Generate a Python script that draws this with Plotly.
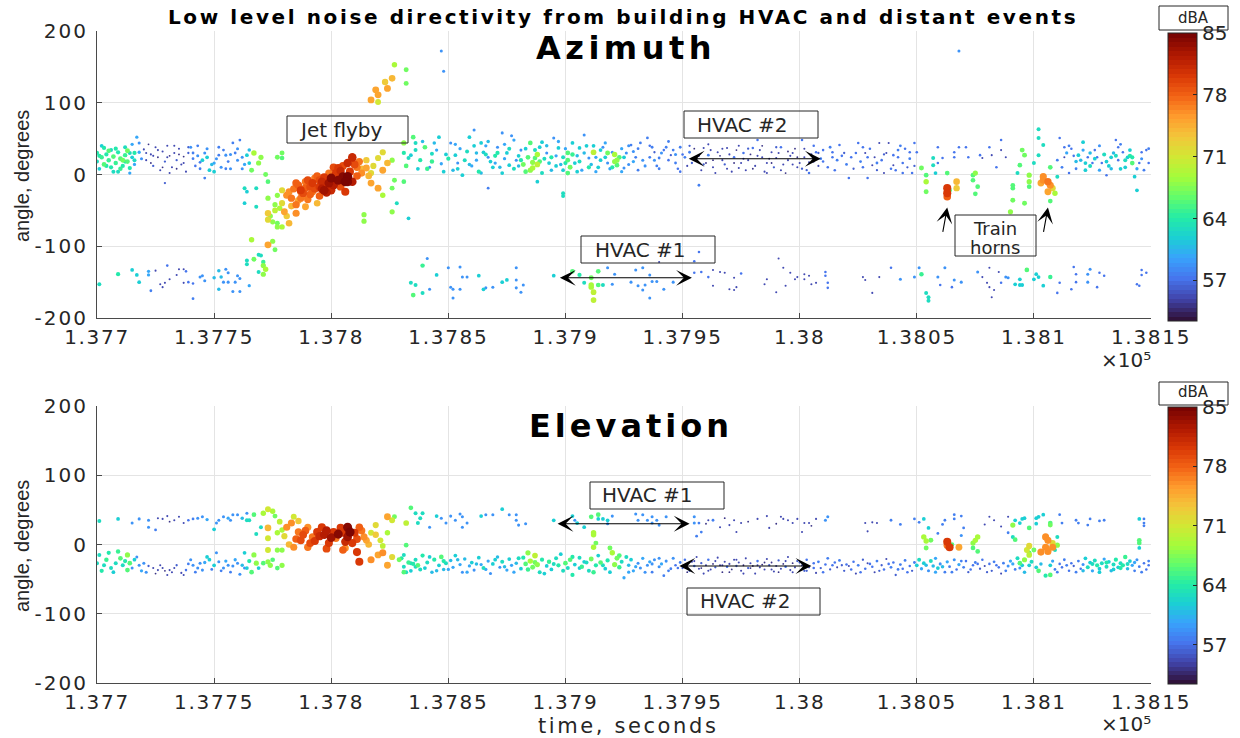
import plotly.graph_objects as go
from plotly.colors import sample_colorscale

# ---------------------------------------------------------------------------
# Axis ticks
# ---------------------------------------------------------------------------
time_ticks = [137700, 137750, 137800, 137850, 137900, 137950, 138000, 138050, 138100, 138150]
time_tick_labels = ["1.377", "1.3775", "1.378", "1.3785", "1.379", "1.3795",
                    "1.38", "1.3805", "1.381", "1.3815"]
angle_ticks = [-200, -100, 0, 100, 200]
angle_tick_labels = ["-200", "-100", "0", "100", "200"]
level_ticks = [57, 64, 71, 78, 85]
level_min, level_max = 52.4, 85.0

# ---------------------------------------------------------------------------
# Detections: (time s, angle deg, level dBA)
# ---------------------------------------------------------------------------
# Azimuth - HVAC band near +20 deg
az_band_upper = [
    (137700, 30, 64), (137700, 18, 63), (137701, 8, 62), (137702, 24, 65), (137703, 37, 64),
    (137703, 14, 66), (137704, 28, 64), (137705, 20, 65), (137706, 34, 63), (137706, 10, 64),
    (137707, 25, 66), (137708, 16, 65), (137709, 31, 64), (137709, 4, 63), (137710, 22, 66),
    (137711, 12, 64), (137712, 27, 65), (137712, 38, 63), (137713, 18, 66), (137714, 9, 64),
    (137715, 24, 62), (137715, 42, 60), (137716, 30, 64), (137713, 33, 67), (137711, 20, 67),
    (137717, 52, 60), (137718, 31, 60), (137716, 14, 60), (137719, 22, 59), (137714, 2, 60),
    (137701, 26, 64), (137702, 40, 62), (137704, 12, 64), (137705, 33, 66), (137707, 4, 63),
    (137708, 36, 64), (137710, 8, 65), (137712, 18, 64), (137714, 30, 63), (137716, 20, 63),
    (137718, 44, 59), (137721, 30, 55), (137723, 16, 54), (137726, 34, 55), (137728, 10, 54),
    (137730, 24, 55), (137733, 40, 55), (137734, 8, 54), (137737, 16, 55), (137739, 38, 56),
    (137741, 30, 58), (137744, 8, 58), (137747, 36, 59), (137750, 16, 60), (137752, 38, 58),
    (137755, 8, 58), (137757, 28, 59), (137760, 36, 59), (137762, 8, 59), (137765, 34, 61),
    (137720, 35, 55), (137721, 20, 55), (137722, 42, 54), (137723, 28, 55), (137724, 12, 56),
    (137725, 38, 55), (137726, 24, 54), (137727, 6, 55), (137728, 32, 55), (137729, 18, 56),
    (137730, 40, 55), (137731, 26, 54), (137732, 10, 55), (137733, 30, 55), (137734, 20, 56),
    (137735, 36, 55), (137736, 14, 55), (137737, 25, 54), (137738, 4, 55), (137729, -12, 56),
    (137739, 30, 56), (137731, 2, 55), (137724, 26, 55), (137735, 28, 54),
    (137740, 38, 59), (137741, 22, 58), (137742, 12, 57), (137743, 26, 59), (137743, 40, 58),
    (137744, 17, 58), (137745, 20, 62), (137746, -5, 58), (137746, 30, 59), (137747, 24, 62),
    (137748, 6, 62), (137749, 14, 61), (137750, 4, 62), (137751, 22, 59), (137752, 27, 58),
    (137753, 10, 59), (137754, 34, 58), (137755, 27, 59), (137756, 18, 58), (137757, 8, 59),
    (137758, 44, 58), (137759, 30, 58), (137760, 20, 59), (137761, 48, 58), (137762, 24, 59),
    (137763, 14, 60), (137764, 27, 62), (137765, 16, 62), (137766, 6, 67), (137767, 30, 69),
    (137769, 16, 68), (137770, 24, 68), (137772, 0, 67), (137773, -10, 66), (137777, 24, 67),
    (137779, 23, 66), (137779, 30, 67),
    (137835, 52, 66), (137840, 38, 66), (137843, 29, 63), (137846, 52, 62), (137842, 10, 59),
    (137851, 44, 59), (137853, 27, 62), (137854, 16, 59), (137856, -1, 62), (137859, 52, 62),
    (137861, 62, 59), (137864, 44, 62), (137865, 31, 62), (137867, 24, 59), (137869, 10, 62),
    (137871, 38, 59), (137873, 58, 59), (137875, 30, 62), (137877, 54, 59), (137876, 13, 62),
    (137879, 20, 59), (137881, 34, 59), (137884, 24, 66), (137885, 44, 66), (137886, 17, 68),
    (137886, 9, 69), (137887, 23, 66), (137889, 38, 62), (137890, 45, 62), (137892, 30, 59),
    (137893, 16, 62), (137895, 51, 59), (137897, 37, 62), (137899, 24, 63), (137901, 30, 66),
    (137901, 20, 66), (137901, 2, 66), (137903, 44, 62), (137904, 16, 62), (137906, 37, 62),
    (137908, 55, 59), (137910, 23, 59), (137912, 31, 70), (137914, 10, 62), (137916, 38, 59),
    (137917, 24, 62), (137918, 16, 59), (137920, 31, 59), (137922, 20, 68), (137922, 13, 66),
    (137923, 24, 66), (137925, 9, 59), (137926, 30, 59), (137928, 41, 58), (137930, 24, 58),
    (137932, 44, 58), (137935, 51, 58), (137936, 24, 58), (137938, 31, 56), (137940, 23, 58),
    (137943, 38, 58), (137945, 27, 56), (137947, 16, 58), (137949, 38, 58), (137951, 24, 58),
    (137953, 31, 58), (137954, 16, 56), (137957, -15, 58), (137959, 37, 55), (137961, 27, 58),
    (137963, 10, 55), (137965, 31, 55), (137967, 20, 55), (137969, 37, 55), (137972, 24, 57),
    (137974, 9, 55), (137976, 30, 57), (137978, 20, 55), (137980, 37, 57), (137982, 48, 57),
    (137984, 24, 55), (137986, 16, 55), (137988, 31, 55), (137990, 23, 55), (137992, 38, 57),
    (137995, 20, 55), (137997, 30, 55), (137999, 10, 55), (138001, 48, 57), (138002, 24, 55),
    (138004, 17, 55), (138007, 31, 57),
    (137867, -19, 58), (137888, -10, 62), (137899, -26, 63), (137899, -30, 63),
    (137838, 20, 64), (137841, 8, 65), (137844, 44, 61), (137847, 15, 60), (137849, 28, 62),
    (137852, 6, 61), (137855, 36, 60), (137857, 20, 63), (137860, 12, 60), (137862, 30, 61),
    (137863, 4, 64), (137866, 40, 60), (137868, 18, 62), (137870, 26, 64), (137872, 10, 61),
    (137874, 42, 60), (137878, 8, 63), (137880, 26, 62), (137882, 14, 67), (137883, 4, 66),
    (137888, 28, 69), (137888, 14, 70), (137891, 22, 63), (137894, 6, 61), (137896, 26, 60),
    (137898, 14, 61), (137900, 36, 60), (137902, 10, 67), (137905, 26, 61), (137907, 6, 60),
    (137909, 40, 62), (137911, 14, 61), (137913, 24, 60), (137915, 34, 62), (137919, 8, 60),
    (137921, 28, 69), (137924, 36, 60), (137927, 14, 59), (137929, 32, 59), (137931, 6, 58),
    (137933, 20, 59), (137937, 38, 58), (137939, 12, 58), (137941, 30, 59), (137944, 20, 57),
    (137946, 34, 58), (137948, 8, 57), (137950, 28, 57),
    (137831, 30, 64), (137832, 12, 66), (137836, 34, 63), (137837, 8, 62), (137839, 46, 61),
    (137843, 18, 65), (137845, 34, 60), (137848, 4, 62), (137850, 22, 64), (137853, 42, 60),
    (137854, 8, 62), (137858, 32, 63), (137859, 14, 61), (137861, 40, 62), (137862, 20, 60),
    (137864, 2, 61), (137866, 28, 63), (137867, 46, 61), (137870, 16, 60), (137871, 30, 64),
    (137873, 2, 62), (137874, 22, 60), (137876, 36, 63), (137878, 48, 60), (137880, 12, 61),
    (137881, 20, 64), (137883, 36, 62), (137885, 6, 68), (137887, 34, 63), (137889, 18, 66),
    (137890, 2, 63), (137892, 40, 61), (137894, 24, 64), (137896, 12, 62), (137897, 46, 60),
    (137899, 6, 62), (137900, 16, 64), (137903, 28, 65), (137905, 4, 62), (137906, 18, 63),
    (137908, 30, 61), (137910, 10, 64), (137912, 40, 62), (137913, 4, 60), (137915, 20, 62),
    (137917, 44, 60), (137918, 30, 67), (137920, 10, 64), (137921, 18, 68), (137924, 4, 60),
    (137925, 24, 62), (137927, 40, 59), (137929, 18, 60), (137931, 36, 58), (137934, 12, 59),
    (137936, 40, 57), (137938, 20, 59), (137940, 8, 58), (137942, 34, 57), (137944, 46, 58),
    (137947, 28, 59), (137949, 4, 57),
    (137952, 12, 55), (137955, 36, 54), (137956, 22, 55), (137958, 6, 55), (137960, 16, 54),
    (137962, 34, 55), (137964, 2, 55), (137966, 26, 54), (137968, 14, 56), (137970, 28, 55),
    (137971, 4, 55), (137973, 34, 54), (137975, 16, 55), (137977, 6, 55), (137979, 28, 54),
    (137981, 12, 55), (137983, 34, 55), (137985, 4, 55), (137987, 22, 54), (137989, 10, 56),
    (137991, 30, 55), (137993, 14, 55), (137994, 2, 54), (137996, 26, 55), (137998, 36, 54),
    (138000, 16, 55), (138003, 6, 56), (138005, 28, 55), (138006, 40, 57), (138008, 12, 55),
    (138009, 22, 58),
    (137953, 40, 56), (137957, 26, 55), (137959, 14, 56), (137961, 42, 55), (137963, 20, 54),
    (137967, 36, 55), (137969, 8, 55), (137972, 16, 54), (137974, 40, 55), (137976, 22, 55),
    (137978, 36, 56), (137980, 8, 54), (137982, 26, 55), (137984, 40, 54), (137986, 2, 55),
    (137988, 16, 54), (137990, 38, 56), (137992, 6, 55), (137995, 32, 54), (137997, 14, 55),
    (137999, 24, 54), (138001, 8, 56), (138002, 36, 55), (138004, 2, 57), (138006, 18, 55),
    (138008, 30, 56),
    (138010, 34, 57), (138014, 31, 57), (138014, 24, 57), (138017, 41, 57), (138021, -5, 57),
    (138022, 24, 57), (138025, 44, 57), (138027, 38, 57), (138029, 24, 57), (138029, -5, 57),
    (138031, 13, 55), (138032, 24, 55), (138034, 44, 55), (138036, 2, 55), (138038, 44, 55),
    (138040, 13, 55), (138040, 27, 57), (138042, 24, 57), (138044, 16, 57), (138045, 36, 57),
    (138047, 31, 57), (138048, 2, 57), (138049, 44, 57), (138050, 31, 57),
    (138012, 10, 57), (138016, 20, 58), (138019, 30, 56), (138023, 8, 56), (138026, 18, 58),
    (138028, 30, 55), (138033, 6, 56), (138035, 20, 57), (138037, 30, 55), (138041, 6, 57),
    (138043, 40, 58), (138046, 10, 56),
    (138010, 18, 57), (138013, 38, 58), (138015, 6, 57), (138018, 26, 57), (138020, 14, 58),
    (138024, 30, 57), (138027, 10, 57), (138030, 36, 57), (138033, 16, 58), (138036, 28, 56),
    (138039, 8, 57), (138042, 34, 58), (138044, 2, 57), (138047, 22, 58), (138049, 12, 56),
    (138057, 23, 63), (138057, 13, 63), (138058, 2, 62), (138059, 38, 57), (138059, 16, 57),
    (138061, 23, 57), (138066, 31, 57), (138066, 24, 57), (138068, 38, 57), (138071, 38, 57),
    (138072, 24, 57), (138077, 27, 57), (138078, 23, 55), (138081, 38, 57), (138082, 27, 55),
    (138084, 10, 57), (138086, 48, 57), (138086, 34, 55), (138088, 24, 55), (138068, 172, 59),
    (138093, 2, 63), (138094, 13, 66), (138095, 34, 67), (138096, 27, 67), (138100, 16, 63),
    (138102, 27, 63), (138102, 63, 63), (138102, 51, 63), (138104, 41, 63),
    (138111, 51, 57), (138113, 38, 57), (138113, 24, 55), (138115, 2, 57), (138116, 36, 57),
    (138117, 26, 57), (138119, 27, 62), (138121, 45, 62), (138122, 16, 62), (138122, 6, 62),
    (138123, 24, 57), (138125, 16, 57), (138126, 34, 57), (138127, 24, 57), (138129, 16, 57),
    (138131, -1, 57), (138133, 24, 62), (138135, 48, 57), (138136, 38, 57), (138136, 20, 57),
    (138138, 31, 57), (138140, 24, 62), (138141, 34, 62), (138142, 24, 64), (138142, 16, 66),
    (138143, -3, 62), (138145, 16, 57), (138146, 31, 57), (138148, 34, 57), (138149, 16, 57),
    (138112, 10, 58), (138114, 30, 60), (138118, 8, 58), (138120, 20, 61), (138124, 30, 61),
    (138128, 6, 60), (138130, 28, 63), (138132, 12, 62), (138134, 30, 61), (138137, 8, 62),
    (138139, 20, 63), (138147, 6, 58),
    (138110, 20, 58), (138115, 40, 58), (138118, 18, 61), (138121, 34, 60), (138124, 12, 63),
    (138126, 22, 62), (138128, 40, 59), (138131, 18, 62), (138133, 8, 61), (138135, 26, 63),
    (138137, 42, 58), (138139, 10, 62), (138141, 26, 64), (138144, 8, 60), (138146, 22, 59),
    (138149, 36, 58),
]

# Azimuth - HVAC band near -145 deg
az_band_lower = [
    (137701, -153, 63), (137709, -139, 64), (137715, -133, 62), (137717, -140, 62), (137718, -150, 62),
    (137722, -135, 60), (137722, -140, 60), (137723, -162, 58), (137725, -134, 55), (137727, -153, 55),
    (137728, -157, 55), (137729, -151, 55), (137730, -127, 57), (137731, -146, 55), (137734, -140, 55),
    (137735, -132, 55), (137737, -132, 55), (137738, -135, 57), (137737, -151, 55), (137739, -150, 57),
    (137741, -152, 57), (137741, -173, 58), (137744, -143, 59), (137745, -141, 59), (137746, -148, 59),
    (137750, -144, 61), (137752, -134, 61), (137752, -160, 61), (137753, -143, 61), (137754, -150, 59),
    (137755, -132, 59), (137756, -137, 59), (137756, -150, 59), (137758, -163, 59), (137759, -150, 59),
    (137760, -141, 59), (137761, -163, 59), (137761, -145, 59), (137765, -155, 60), (137764, -120, 63),
    (137764, -125, 63),
    (137834, -151, 63), (137836, -154, 63), (137835, -168, 66), (137839, -127, 65), (137839, -165, 63),
    (137841, -117, 59), (137842, -160, 59), (137845, -140, 62), (137850, -130, 59), (137851, -157, 59),
    (137852, -172, 59), (137852, -160, 59), (137855, -160, 59), (137855, -129, 59), (137856, -143, 59),
    (137858, -143, 59), (137863, -141, 62), (137865, -160, 62), (137866, -158, 59), (137869, -157, 59),
    (137873, -150, 62), (137875, -147, 62), (137879, -147, 59), (137879, -158, 59), (137879, -130, 59),
    (137881, -164, 59), (137882, -154, 59), (137895, -141, 62), (137903, -135, 66), (137906, -140, 64),
    (137908, -151, 63), (137911, -144, 67), (137911, -157, 69), (137912, -164, 70), (137912, -175, 70),
    (137911, -154, 69), (137914, -154, 66), (137914, -135, 66), (137916, -154, 63), (137918, -130, 59),
    (137920, -153, 59), (137921, -139, 59), (137928, -150, 59), (137930, -133, 59), (137931, -155, 59),
    (137933, -130, 59), (137933, -161, 59), (137934, -154, 59), (137936, -140, 59), (137936, -172, 59),
    (137937, -149, 59), (137939, -149, 59), (137942, -160, 59), (137946, -150, 59), (137940, -122, 55),
    (137955, -121, 57), (137955, -137, 57), (137957, -108, 57), (137958, -136, 57), (137961, -143, 57),
    (137963, -133, 55), (137963, -155, 55), (137966, -136, 55), (137968, -137, 55), (137970, -160, 55),
    (137972, -144, 55), (137973, -157, 55), (137972, -161, 55), (137975, -138, 57), (137985, -153, 55),
    (137986, -146, 55), (137990, -164, 55), (137991, -117, 55), (137993, -130, 55), (137994, -155, 55),
    (137996, -137, 55), (137998, -146, 55), (137999, -143, 55), (138002, -139, 55), (138002, -146, 55),
    (138004, -141, 55), (138005, -153, 55), (138007, -151, 55),
    (138011, -136, 57), (138011, -141, 57), (138012, -151, 57), (138012, -158, 57), (138027, -143, 55),
    (138028, -147, 55), (138031, -165, 55), (138034, -143, 55), (138039, -130, 57), (138043, -146, 59),
    (138049, -143, 59), (138051, -130, 59), (138052, -139, 65), (138054, -165, 63), (138055, -171, 63),
    (138055, -176, 63), (138059, -143, 59), (138060, -154, 57), (138062, -130, 59), (138065, -157, 57),
    (138066, -147, 59), (138069, -150, 59), (138076, -136, 59), (138078, -143, 55), (138080, -151, 55),
    (138081, -130, 55), (138081, -157, 55), (138082, -171, 55), (138083, -161, 55), (138085, -136, 55),
    (138086, -151, 57), (138088, -143, 59), (138089, -144, 59), (138092, -153, 62), (138094, -154, 62),
    (138095, -154, 62), (138094, -146, 62), (138097, -133, 66), (138100, -146, 62), (138101, -139, 62),
    (138102, -143, 62), (138104, -155, 62), (138107, -143, 65), (138110, -165, 57), (138111, -151, 57),
    (138116, -160, 57), (138117, -129, 57), (138118, -139, 57), (138118, -150, 57), (138123, -150, 59),
    (138123, -139, 59), (138124, -132, 59), (138127, -157, 57), (138128, -137, 57), (138130, -141, 57),
    (138144, -153, 57), (138145, -155, 57), (138146, -133, 57), (138146, -140, 57), (138148, -137, 57),
]

# Azimuth - jet flyby track
az_jet = [
    (137769, -112, 63), (137770, -113, 63), (137771, -122, 65), (137769, -136, 63), (137771, -127, 68),
    (137772, -132, 69), (137771, -139, 68), (137766, -91, 69), (137767, -118, 67), (137773, -98, 75),
    (137775, -93, 68), (137776, -105, 67), (137768, -45, 63), (137763, -19, 63), (137764, -24, 62),
    (137763, -40, 62), (137768, -19, 63),
    (137773, -54, 73), (137773, -63, 72), (137774, -58, 68), (137775, -66, 68), (137777, -68, 67),
    (137777, -73, 68), (137779, -73, 69), (137782, -68, 74), (137773, -33, 68), (137776, -42, 68),
    (137778, -47, 69), (137780, -52, 75), (137781, -29, 76), (137783, -33, 77), (137785, -54, 76),
    (137785, -42, 77), (137787, -33, 77), (137788, -26, 79), (137789, -19, 78), (137790, -35, 77),
    (137792, -24, 77), (137794, -40, 74), (137795, -17, 80), (137796, -20, 82), (137798, -17, 80),
    (137800, -22, 81), (137804, -17, 79), (137806, -24, 80), (137807, -10, 84), (137809, -10, 82),
    (137817, -12, 75), (137820, -19, 75), (137822, -29, 69), (137814, -56, 68), (137814, -65, 68),
    (137826, -19, 67), (137826, -52, 68), (137828, -40, 63), (137833, -61, 62),
    (137777, -29, 68), (137779, -22, 72), (137782, -24, 76), (137785, -12, 78), (137787, -24, 77),
    (137789, -10, 77), (137791, -17, 79), (137793, -5, 77), (137795, -8, 79), (137797, -22, 83),
    (137799, 2, 77), (137801, 10, 79), (137803, 9, 80), (137805, -3, 84), (137807, -3, 85),
    (137807, 16, 81), (137809, 23, 80), (137809, 24, 81), (137811, 10, 77), (137813, 2, 76),
    (137815, 9, 75), (137817, 2, 72), (137820, 23, 72), (137822, 6, 75), (137822, 31, 72),
    (137824, 16, 74), (137826, 20, 68), (137827, -8, 67), (137831, -10, 66), (137833, 23, 63),
    (137834, 27, 62), (137831, 44, 68), (137836, 44, 63),
    (137784, -20, 77), (137786, -15, 78), (137788, -30, 76), (137790, -8, 79), (137791, -28, 78),
    (137792, -12, 80), (137793, -20, 79), (137794, -2, 78), (137796, -10, 81), (137797, -4, 80),
    (137798, -25, 82), (137799, -12, 83), (137800, -5, 84), (137801, -15, 82), (137802, 2, 80),
    (137803, -8, 84), (137804, 5, 81), (137805, 12, 79), (137806, -10, 85), (137808, 4, 80),
    (137810, 14, 79), (137811, -2, 78), (137812, 18, 77), (137813, 8, 74), (137815, 20, 73),
    (137816, -2, 74), (137818, 12, 72), (137786, -36, 75), (137783, -44, 74), (137789, -45, 75),
    (137781, -58, 73), (137779, -40, 72), (137776, -50, 70), (137787, -22, 80), (137795, -30, 78),
    (137817, 104, 75), (137819, 118, 75), (137820, 111, 75), (137820, 101, 71), (137823, 129, 73),
    (137824, 120, 75), (137826, 134, 74), (137827, 153, 69), (137832, 146, 67), (137832, 127, 67),
    (137847, 172, 59), (137848, 144, 59),
]

# Azimuth - train horn events
az_train = [
    (138052, 9, 67), (138054, -1, 66), (138054, -10, 69), (138054, -24, 67), (138063, 2, 66),
    (138063, -19, 80), (138063, -26, 80), (138063, -31, 78), (138064, -22, 66), (138067, -10, 74),
    (138067, -19, 73), (138074, -1, 66), (138074, -8, 66), (138075, 2, 68), (138076, -17, 66),
    (138075, -27, 66), (138091, -15, 66), (138091, -19, 66), (138098, -1, 68), (138098, -10, 68),
    (138098, -17, 66), (138090, -52, 68), (138091, -36, 67), (138096, -40, 67),
    (138104, -3, 76), (138104, -8, 76), (138106, -10, 77), (138107, -15, 76), (138106, -24, 75),
    (138108, -19, 72), (138109, -26, 69), (138107, -37, 66), (138107, 10, 66), (138110, -3, 63),
    (138103, -12, 75), (138144, -22, 62),
]

# Elevation - HVAC band near -30 deg
el_band_lower = [
    (137700, -27, 63), (137701, -15, 63), (137703, -30, 63), (137704, -22, 65), (137706, -34, 63),
    (137708, -27, 63), (137710, -20, 66), (137711, -30, 63), (137713, -15, 68), (137713, -37, 66),
    (137714, -27, 66), (137715, -34, 59), (137717, -18, 59), (137718, -30, 59), (137720, -27, 59),
    (137721, -40, 59), (137724, -34, 55), (137726, -37, 55), (137728, -34, 55), (137730, -44, 55),
    (137731, -37, 55), (137733, -34, 55), (137736, -41, 55), (137738, -37, 57), (137740, -22, 59),
    (137741, -30, 59), (137743, -34, 59), (137744, -27, 59), (137745, -37, 59), (137747, -18, 62),
    (137748, -22, 62), (137750, -30, 62), (137751, -12, 59), (137752, -25, 59), (137754, -34, 59),
    (137756, -30, 59), (137758, -31, 59), (137760, -27, 59), (137761, -43, 59), (137763, -34, 59),
    (137764, -34, 62), (137766, -40, 66), (137768, -27, 68), (137769, -34, 62), (137771, -27, 66),
    (137773, -25, 68), (137774, -30, 68), (137775, -22, 66), (137777, -34, 66), (137779, -30, 68),
    (137767, -15, 68), (137763, -12, 62), (137773, -8, 71), (137777, -8, 68),
    (137702, -38, 64), (137705, -12, 64), (137707, -40, 62), (137709, -10, 65), (137712, -24, 64),
    (137716, -22, 62), (137719, -38, 60), (137722, -31, 56), (137725, -42, 54), (137727, -30, 55),
    (137729, -38, 54), (137732, -40, 55), (137734, -30, 56), (137737, -44, 55), (137739, -28, 58),
    (137742, -40, 58), (137746, -26, 60), (137749, -36, 58), (137753, -38, 58), (137755, -24, 60),
    (137757, -40, 58), (137759, -22, 60), (137762, -30, 61), (137765, -24, 64),
    (137830, -20, 64), (137831, -32, 63), (137833, -26, 65), (137834, -38, 62), (137836, -22, 63),
    (137837, -30, 66), (137839, -16, 64), (137840, -34, 62), (137841, -26, 63), (137843, -40, 61),
    (137844, -22, 64), (137846, -30, 62), (137847, -18, 66), (137848, -36, 61), (137849, -27, 63),
    (137851, -23, 61), (137852, -33, 60), (137853, -16, 62), (137855, -29, 60), (137856, -40, 59),
    (137857, -21, 61), (137859, -31, 60), (137860, -26, 62), (137861, -37, 59), (137863, -19, 62),
    (137864, -29, 60), (137865, -34, 63), (137867, -24, 60), (137868, -42, 59), (137869, -28, 62),
    (137871, -18, 61), (137872, -33, 59), (137873, -25, 63), (137875, -37, 60), (137876, -21, 62),
    (137877, -30, 60), (137879, -27, 61),
    (137881, -35, 62), (137882, -19, 64), (137883, -28, 66), (137884, -12, 68), (137885, -24, 69),
    (137886, -33, 67), (137887, -16, 70), (137888, -29, 68), (137889, -40, 63), (137890, -22, 64),
    (137892, -31, 62), (137893, -25, 65), (137894, -36, 62), (137896, -20, 63), (137897, -30, 64),
    (137898, -14, 62), (137900, -27, 66), (137901, -34, 63), (137902, -22, 66), (137903, -44, 64),
    (137904, -29, 62), (137906, -19, 63), (137907, -32, 65), (137908, -25, 62), (137910, -38, 63),
    (137911, -21, 67), (137913, -30, 64), (137914, -16, 62), (137915, -26, 66), (137917, -35, 62),
    (137918, -23, 64), (137919, -5, 67), (137920, -12, 69), (137921, -29, 68), (137922, -20, 67),
    (137923, -33, 65), (137924, -25, 63), (137925, -48, 60), (137926, -18, 63), (137927, -30, 61),
    (137928, -22, 62), (137929, -38, 60),
    (137832, -40, 63), (137835, -28, 64), (137838, -36, 63), (137842, -18, 62), (137845, -38, 61),
    (137848, -24, 64), (137850, -36, 60), (137854, -22, 61), (137858, -40, 60), (137862, -28, 61),
    (137866, -36, 60), (137870, -22, 62), (137874, -32, 61), (137878, -40, 60), (137880, -20, 63),
    (137884, -36, 65), (137887, -26, 67), (137891, -42, 62), (137895, -28, 63), (137899, -38, 63),
    (137903, -18, 64), (137906, -34, 62), (137909, -26, 63), (137912, -40, 65), (137916, -30, 63),
    (137919, -40, 62), (137923, -16, 66), (137927, -40, 60), (137930, -32, 60), (137934, -40, 59),
    (137937, -28, 59), (137940, -20, 59), (137944, -38, 58), (137948, -34, 57),
    (137931, -27, 59), (137932, -34, 59), (137933, -20, 60), (137935, -30, 59), (137936, -25, 60),
    (137937, -40, 58), (137938, -22, 59), (137940, -32, 59), (137941, -28, 60), (137942, -45, 58),
    (137943, -24, 59), (137945, -35, 58), (137946, -20, 59), (137947, -30, 57), (137949, -26, 58),
    (137950, -34, 56), (137951, -22, 57), (137952, -29, 55), (137953, -38, 56), (137954, -25, 55),
    (137955, -31, 57), (137956, -18, 55), (137957, -35, 55), (137958, -27, 56), (137959, -42, 55),
    (137960, -30, 55), (137961, -22, 57), (137962, -36, 55), (137963, -28, 54), (137964, -33, 56),
    (137965, -19, 55), (137966, -30, 55), (137967, -40, 54), (137968, -25, 55), (137969, -32, 57),
    (137970, -28, 55), (137971, -36, 54), (137972, -22, 55), (137973, -31, 56), (137974, -26, 55),
    (137975, -38, 55), (137976, -30, 54), (137977, -20, 55), (137978, -34, 56), (137979, -27, 55),
    (137980, -31, 54), (137981, -42, 55), (137982, -24, 57), (137983, -33, 55), (137984, -29, 54),
    (137985, -36, 55), (137986, -21, 55), (137987, -30, 56), (137988, -26, 54), (137989, -39, 55),
    (137990, -31, 55), (137991, -23, 56), (137992, -35, 55), (137993, -28, 54), (137994, -32, 57),
    (137995, -18, 55), (137996, -37, 55), (137997, -27, 54), (137998, -33, 55), (137999, -24, 56),
    (137952, -40, 54), (137955, -24, 55), (137958, -34, 54), (137961, -38, 55), (137964, -24, 55),
    (137967, -30, 55), (137970, -40, 54), (137973, -22, 55), (137976, -42, 55), (137979, -34, 54),
    (137982, -30, 55), (137985, -26, 54), (137988, -36, 55), (137991, -40, 54), (137994, -24, 55),
    (137997, -40, 55),
    (138000, -26, 56), (138003, -38, 56), (138006, -34, 57), (138010, -40, 57), (138014, -30, 57),
    (138018, -30, 56), (138022, -36, 57), (138026, -40, 57), (138030, -28, 57), (138034, -38, 56),
    (138038, -28, 57), (138042, -36, 58), (138046, -40, 57),
    (138001, -30, 55), (138002, -38, 56), (138003, -22, 57), (138004, -33, 55), (138006, -27, 57),
    (138007, -41, 55), (138008, -25, 58), (138009, -34, 56), (138011, -29, 57), (138012, -20, 58),
    (138013, -36, 56), (138015, -26, 57), (138016, -33, 55), (138017, -23, 58), (138019, -38, 56),
    (138020, -29, 57), (138021, -31, 55), (138023, -25, 57), (138024, -42, 55), (138025, -30, 58),
    (138027, -22, 56), (138028, -35, 57), (138029, -27, 55), (138031, -32, 57), (138032, -40, 55),
    (138033, -24, 58), (138035, -30, 56), (138036, -36, 57), (138037, -21, 55), (138039, -33, 58),
    (138040, -26, 57), (138041, -44, 56), (138043, -29, 58), (138044, -35, 57), (138045, -23, 58),
    (138047, -31, 57), (138048, -38, 56), (138049, -26, 58),
    (138050, -30, 62), (138051, -22, 63), (138052, -35, 60), (138053, -27, 62), (138055, -38, 59),
    (138056, -24, 63), (138057, -31, 61), (138058, -20, 60), (138059, -34, 62), (138060, -28, 59),
    (138062, -40, 58), (138063, -25, 60), (138064, -32, 58), (138066, -22, 59), (138067, -36, 57),
    (138068, -29, 60), (138070, -33, 58), (138071, -24, 57), (138072, -40, 56), (138074, -30, 57),
    (138075, -26, 58), (138077, -35, 56), (138078, -22, 57), (138079, -31, 55), (138081, -28, 57),
    (138082, -38, 56), (138083, -25, 58), (138085, -33, 57), (138086, -42, 55), (138087, -27, 58),
    (138089, -31, 59), (138090, -24, 60), (138092, -36, 58), (138093, -20, 63), (138095, -30, 62),
    (138096, -40, 61), (138099, -25, 63), (138101, -33, 62), (138102, -38, 66), (138105, -45, 64),
    (138107, -30, 62),
    (138054, -30, 61), (138058, -40, 60), (138061, -32, 61), (138065, -40, 58), (138069, -24, 58),
    (138073, -36, 57), (138076, -28, 57), (138080, -40, 56), (138084, -30, 57), (138088, -38, 58),
    (138091, -28, 60), (138094, -34, 59), (138098, -30, 62), (138103, -28, 61), (138110, -40, 58),
    (138114, -30, 58), (138118, -40, 58), (138121, -38, 61), (138125, -28, 63), (138128, -40, 62),
    (138131, -26, 64), (138134, -36, 62), (138137, -34, 64), (138140, -28, 63), (138143, -26, 60),
    (138146, -40, 58), (138149, -30, 57),
    (138108, -24, 60), (138109, -36, 58), (138111, -28, 57), (138112, -33, 57), (138113, -22, 58),
    (138115, -38, 57), (138116, -27, 57), (138117, -31, 56), (138119, -24, 58), (138120, -35, 57),
    (138121, -29, 59), (138122, -20, 62), (138123, -33, 63), (138124, -26, 62), (138125, -38, 60),
    (138126, -23, 63), (138127, -30, 64), (138128, -35, 62), (138129, -27, 63), (138130, -21, 60),
    (138131, -32, 63), (138132, -25, 62), (138133, -38, 61), (138134, -29, 63), (138135, -22, 64),
    (138136, -33, 62), (138137, -27, 63), (138138, -30, 64), (138139, -18, 65), (138140, -35, 61),
    (138141, -24, 62), (138142, -30, 60), (138143, -38, 58), (138144, -22, 59), (138145, -32, 58),
    (138147, -27, 57), (138148, -36, 57), (138149, -24, 58),
]

# Elevation - HVAC band near +35 deg
el_band_upper = [
    (137701, 34, 63), (137709, 37, 62), (137715, 31, 59), (137718, 37, 59), (137722, 35, 59),
    (137722, 25, 59), (137725, 21, 58), (137728, 37, 55), (137730, 41, 55), (137733, 35, 55),
    (137735, 40, 55), (137737, 31, 55), (137739, 35, 57), (137741, 37, 58), (137745, 40, 59),
    (137750, 22, 62), (137751, 31, 59), (137752, 35, 59), (137754, 40, 59), (137757, 35, 59),
    (137758, 43, 59), (137760, 43, 59), (137764, 45, 59), (137764, 35, 63),
    (137726, 38, 55), (137731, 33, 54), (137743, 38, 59), (137747, 36, 60), (137756, 38, 60),
    (137762, 38, 61),
    (137838, 38, 63), (137839, 45, 63), (137842, 25, 59), (137845, 41, 62), (137847, 38, 59),
    (137849, 31, 59), (137851, 41, 59), (137853, 35, 59), (137855, 44, 59), (137856, 40, 59),
    (137856, 25, 59), (137858, 31, 59), (137864, 41, 62), (137866, 43, 59), (137869, 43, 59),
    (137873, 51, 62), (137876, 43, 59), (137879, 43, 59), (137879, 35, 59), (137880, 28, 59),
    (137883, 30, 59), (137895, 35, 62), (137903, 41, 62), (137904, 35, 59), (137905, 31, 62),
    (137908, 25, 62), (137911, 40, 66), (137914, 37, 62), (137914, 43, 66), (137916, 37, 62),
    (137918, 35, 62), (137920, 41, 59), (137918, 30, 59), (137930, 44, 59), (137931, 35, 59),
    (137933, 43, 59), (137935, 35, 59), (137937, 40, 59), (137937, 31, 59), (137939, 35, 59),
    (137940, 28, 59), (137943, 40, 59), (137955, 40, 59), (137955, 31, 59), (137957, 31, 58),
    (137958, 18, 58), (137956, 12, 58), (137961, 35, 55), (137963, 35, 58), (137966, 25, 55),
    (137970, 28, 55), (137972, 35, 55), (137973, 18, 55), (137975, 31, 55), (137986, 41, 55),
    (137987, 24, 55), (137992, 40, 55), (137993, 37, 55), (137995, 35, 55), (137997, 31, 55),
    (137999, 37, 55), (138001, 18, 55), (138002, 31, 55), (138004, 31, 55), (138007, 37, 55),
    (137960, 30, 54), (137968, 38, 54), (137978, 33, 54), (137982, 37, 55), (137990, 30, 54),
    (138005, 27, 54),
    (138011, 35, 59), (138012, 40, 59), (138028, 31, 55), (138029, 19, 55), (138031, 32, 55),
    (138033, 31, 55), (138039, 35, 58), (138043, 29, 58), (138049, 37, 58), (138051, 32, 58),
    (138053, 37, 62), (138055, 24, 62), (138059, 16, 58), (138061, 29, 58), (138062, 35, 58),
    (138066, 37, 58), (138066, 43, 58), (138069, 41, 58), (138070, 24, 58), (138079, 29, 55),
    (138081, 40, 55), (138083, 35, 55), (138086, 26, 55), (138089, 40, 55), (138089, 17, 58),
    (138091, 28, 68), (138092, 35, 62), (138094, 31, 62), (138095, 37, 62), (138096, 38, 62),
    (138098, 24, 66), (138101, 38, 62), (138101, 30, 62), (138102, 40, 62), (138104, 43, 62),
    (138107, 31, 66), (138111, 43, 58), (138112, 31, 58), (138118, 35, 58), (138119, 31, 58),
    (138123, 28, 58), (138124, 37, 58), (138128, 34, 58), (138130, 35, 58), (138145, 37, 62),
    (138147, 37, 58), (138147, 27, 58), (138147, 31, 58),
]

# Elevation - jet flyby
el_jet = [
    (137767, 43, 66), (137770, 25, 63), (137771, 45, 69), (137773, 51, 71), (137775, 48, 69),
    (137776, 41, 67), (137768, 15, 63), (137773, 9, 71), (137773, 24, 74), (137777, 17, 69),
    (137779, 21, 69), (137765, 35, 63), (137781, 25, 76), (137783, 31, 76), (137786, 18, 77),
    (137787, 6, 79), (137788, 14, 79), (137790, 25, 76), (137791, 2, 79), (137792, 11, 77),
    (137794, 18, 80), (137796, 25, 80), (137797, 14, 82), (137799, 2, 80), (137801, 18, 80),
    (137802, 9, 77), (137804, 24, 80), (137805, 17, 80), (137807, 25, 84), (137807, 11, 83),
    (137809, 2, 80), (137810, 17, 80), (137812, 25, 78), (137814, 11, 76), (137815, 6, 75),
    (137817, 17, 71), (137819, 14, 73), (137821, 6, 71), (137824, 40, 75), (137824, 17, 69),
    (137826, 35, 71), (137827, 40, 67), (137832, -1, 66), (137834, 53, 66), (137836, 45, 63),
    (137837, 31, 63), (137806, -5, 76), (137805, -8, 78), (137811, -11, 80), (137784, -4, 76),
    (137779, -8, 68), (137812, -25, 80), (137817, -22, 76), (137820, -15, 75), (137822, -12, 76),
    (137824, -30, 75), (137826, -18, 72), (137829, -22, 67), (137831, -15, 63), (137834, -27, 63),
    (137836, -32, 63), (137831, -40, 66), (137832, 31, 70),
    (137785, 8, 78), (137789, 20, 78), (137793, 5, 80), (137795, 12, 81), (137798, 20, 82),
    (137800, 10, 83), (137803, 15, 84), (137806, 4, 81), (137808, 18, 85), (137811, 8, 79),
    (137813, 20, 77), (137790, -4, 77), (137798, -6, 79), (137816, 0, 74), (137819, 28, 72),
    (137822, -2, 70), (137786, 34, 73), (137780, 12, 72), (137782, 0, 74), (137778, 33, 70),
    (137784, 40, 71),
]

# Elevation - train horn events and other transients
el_train = [
    (137912, 17, 69), (137912, 14, 69), (137913, 2, 67), (137912, -4, 69),
    (138053, 11, 69), (138054, 5, 69), (138054, -5, 67), (138056, 6, 67), (138063, 4, 80),
    (138063, -1, 77), (138064, -4, 80), (138065, 0, 66), (138068, -4, 75), (138069, 13, 59),
    (138074, -5, 66), (138074, 2, 68), (138075, 6, 69), (138076, 11, 69), (138076, -10, 66),
    (138091, 11, 63), (138092, 7, 66), (138098, -2, 72), (138097, -8, 71), (138098, -12, 66),
    (138105, 11, 76), (138106, 6, 76), (138105, -4, 76), (138106, -10, 76), (138107, 28, 67),
    (138108, 2, 72), (138108, -4, 76), (138110, 11, 63), (138110, -1, 68), (138109, -8, 63),
    (138145, 6, 66), (138145, 2, 66), (138145, -5, 62),
    (138094, -27, 66), (138096, -22, 68), (138098, -15, 70), (138100, -8, 67), (138103, -11, 76),
    (138107, -44, 66),
]

# ---------------------------------------------------------------------------
W, H = 1240, 738


def px(x):
    return x / W


def py(y):
    return 1 - y / H


def spaced(s, gap):
    return '<span style="letter-spacing:%.1fpx">%s</span>' % (gap, s)


def columns(*groups):
    pts = sorted((p for g in groups for p in g), key=lambda p: p[2])
    return [p[0] for p in pts], [p[1] for p in pts], [p[2] for p in pts]


def marker_size(levels):
    return [1.6 + (v - 53) * 0.24 for v in levels]


# 64-level banded turbo colormap
n_levels = 64
turbo = sample_colorscale("Turbo", [i / (n_levels - 1) for i in range(n_levels)])
banded = []
for i, c in enumerate(turbo):
    banded.append([i / n_levels, c])
    banded.append([(i + 1) / n_levels, c])

ink = "#262626"
font_main = "DejaVu Sans"

fig = go.Figure()
panels = [
    ((az_band_upper, az_band_lower, az_jet, az_train), "x", "y", "coloraxis"),
    ((el_band_lower, el_band_upper, el_jet, el_train), "x2", "y2", "coloraxis2"),
]
for groups, xa, ya, ca in panels:
    t, ang, lvl = columns(*groups)
    fig.add_trace(go.Scatter(
        x=t, y=ang, xaxis=xa, yaxis=ya, mode="markers", showlegend=False, hoverinfo="skip",
        marker=dict(color=lvl, coloraxis=ca, size=marker_size(lvl), line=dict(width=0), opacity=1),
    ))

axis_style = dict(
    showline=True, linecolor="#4a4a4a", linewidth=1, mirror=False,
    ticks="inside", ticklen=5, tickwidth=1, tickcolor="#4a4a4a",
    showgrid=True, gridcolor="#e4e4e4", gridwidth=1, zeroline=False,
    tickfont=dict(family=font_main, size=20, color=ink),
)
time_text = [spaced(s, 1.7) for s in time_tick_labels]
angle_text = [spaced(s, 2.0) for s in angle_tick_labels]
xdom = [px(97), px(1151)]
top_dom = [py(318), py(31)]
bot_dom = [py(683), py(406)]

colorbar_style = dict(
    thickness=29, thicknessmode="pixels", lenmode="fraction",
    xref="paper", yref="paper", xanchor="left", yanchor="bottom", xpad=0, ypad=0,
    outlinewidth=1, outlinecolor=ink,
    tickvals=level_ticks, ticks="inside", ticklen=4, tickcolor=ink,
    tickfont=dict(family=font_main, size=20, color=ink),
)

fig.update_layout(
    width=W, height=H,
    margin=dict(l=0, r=0, t=0, b=0, autoexpand=False),
    paper_bgcolor="white", plot_bgcolor="white",
    xaxis=dict(domain=xdom, anchor="y", range=[137700, 138150], tickvals=time_ticks,
               ticktext=time_text, ticklabelstandoff=1, **axis_style),
    yaxis=dict(domain=top_dom, anchor="x", range=[-200, 200], tickvals=angle_ticks,
               ticktext=angle_text, ticklabelstandoff=4, **axis_style),
    xaxis2=dict(domain=xdom, anchor="y2", range=[137700, 138150], tickvals=time_ticks,
                ticktext=time_text, ticklabelstandoff=1, **axis_style),
    yaxis2=dict(domain=bot_dom, anchor="x2", range=[-200, 200], tickvals=angle_ticks,
                ticktext=angle_text, ticklabelstandoff=4, **axis_style),
    coloraxis=dict(colorscale=banded, cmin=level_min, cmax=level_max,
                   colorbar=dict(x=px(1168), y=py(321), len=(321 - 33) / H, **colorbar_style)),
    coloraxis2=dict(colorscale=banded, cmin=level_min, cmax=level_max,
                    colorbar=dict(x=px(1168), y=py(684), len=(684 - 407) / H, **colorbar_style)),
)

annotations = []
shapes = []


def text(x, y, s, size=20, bold=False, anchor="center", angle=0, family=font_main, gap=0):
    body = spaced(s, gap) if gap else s
    annotations.append(dict(
        x=px(x), y=py(y), xref="paper", yref="paper", text=("<b>%s</b>" % body) if bold else body,
        showarrow=False, xanchor=anchor, yanchor="middle", textangle=angle,
        font=dict(family=family, size=size, color="black" if bold else ink),
    ))


def box(x0, y0, x1, y1):
    shapes.append(dict(type="rect", xref="paper", yref="paper", x0=px(x0), x1=px(x1),
                       y0=py(y1), y1=py(y0), line=dict(color=ink, width=1), layer="above"))


def arrow(xa, ya, x0, y0, x1, y1, both=True):
    annotations.append(dict(
        xref=xa, yref=ya, axref=xa, ayref=ya, x=x1, y=y1, ax=x0, ay=y0, text="",
        showarrow=True, arrowhead=3, startarrowhead=3, arrowsize=2.4, startarrowsize=2.4,
        arrowwidth=1.1, arrowcolor="black", arrowside="end+start" if both else "end",
    ))


# Titles
text(623, 17, "Low level noise directivity from building HVAC and distant events",
     size=20, bold=True, gap=2.6)
text(626, 48, "Azimuth", size=32, bold=True, gap=4.5)
text(631, 426, "Elevation", size=32, bold=True, gap=4.0)

# Axis titles and time-axis exponent
text(22, 176, "angle, degrees", size=20, angle=-90, family="Liberation Sans")
text(22, 546, "angle, degrees", size=20, angle=-90, family="Liberation Sans")
text(628, 726, "time, seconds", size=21, gap=2.6)
text(1153, 360, "\u00d710\u2075", size=20, anchor="right")
text(1153, 724, "\u00d710\u2075", size=20, anchor="right")

# Colorbar unit boxes
box(1159, 6, 1228, 30)
text(1193, 18, "dBA", size=15)
box(1159, 382, 1228, 405)
text(1193, 392, "dBA", size=15)

# Event labels - azimuth
box(287, 116, 408, 143)
text(297, 130, "Jet flyby", anchor="left")
box(684, 111, 818, 138)
text(695, 125, "HVAC #2", anchor="left")
box(581, 236, 715, 263)
text(593, 250, "HVAC #1", anchor="left")
box(955, 215, 1036, 256)
text(995, 228, "Train", size=18)
text(995, 247, "horns", size=18)
arrow("x", "y", 137952, 22, 138009, 22)
arrow("x", "y", 137897, -144, 137954, -144)
arrow("x", "y", 138061, -82, 138063, -46, both=False)
arrow("x", "y", 138104, -82, 138106, -46, both=False)

# Event labels - elevation
box(590, 482, 724, 509)
text(600, 495, "HVAC #1", anchor="left")
box(687, 588, 820, 615)
text(698, 601, "HVAC #2", anchor="left")
arrow("x2", "y2", 137896, 30, 137953, 30)
arrow("x2", "y2", 137948, -31, 138005, -31)

fig.update_layout(annotations=annotations, shapes=shapes)
fig.write_html("out.html")
